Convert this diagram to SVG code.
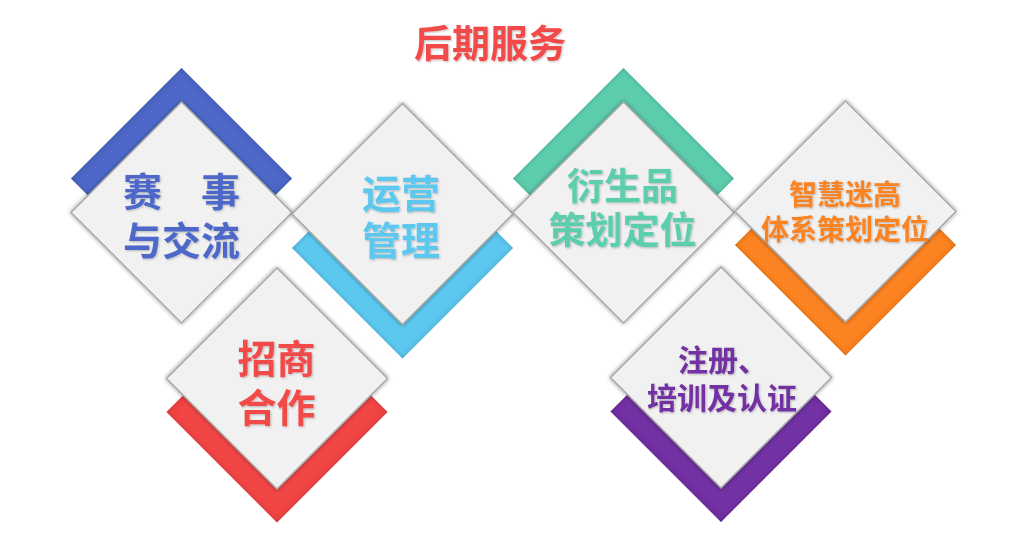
<svg xmlns="http://www.w3.org/2000/svg" width="1020" height="538" viewBox="0 0 1020 538">
<style>
.card{fill:#f1f1f1;stroke:#a8a8a8;stroke-width:1.5;filter:url(#ds)}
.chev{filter:url(#inset)}
.t{font-family:"Noto Sans CJK SC","Noto Sans",sans-serif;font-weight:700;text-anchor:middle;dominant-baseline:central;filter:url(#ts)}
</style>
<defs>
<polygon id="d" points="0,-110.5 110.5,0 0,110.5 -110.5,0"/>
<filter id="ds" x="-20%" y="-20%" width="140%" height="140%">
<feDropShadow dx="0" dy="0" stdDeviation="2" flood-color="#000" flood-opacity="0.45"/>
</filter>
<filter id="inset" x="-10%" y="-10%" width="120%" height="120%">
<feComponentTransfer in="SourceAlpha" result="inv"><feFuncA type="table" tableValues="1 0"/></feComponentTransfer>
<feGaussianBlur in="inv" stdDeviation="2.5" result="blur"/>
<feFlood flood-color="#000" flood-opacity="0.45"/>
<feComposite in2="blur" operator="in"/>
<feComposite in2="SourceAlpha" operator="in" result="sh"/>
<feMerge><feMergeNode in="SourceGraphic"/><feMergeNode in="sh"/></feMerge>
</filter>
<filter id="ts" x="-10%" y="-10%" width="120%" height="120%">
<feDropShadow dx="1" dy="1" stdDeviation="0.8" flood-color="#000" flood-opacity="0.25"/>
</filter>
</defs>
<rect width="1020" height="538" fill="#fff"/>
<g id="title"><text class="t" x="490" y="40" font-size="38" fill="#f24a4a">后期服务</text></g>
<g id="node-saishi">
<use href="#d" class="chev" x="181.5" y="178.5" fill="#4d67c8"/>
<use href="#d" class="card" x="181.5" y="212.5"/>
<text class="t" x="181.5" y="188.5" font-size="39" fill="#4d67c8">赛　事</text>
<text class="t" x="181.5" y="237.5" font-size="39" fill="#4d67c8">与交流</text>
</g>
<g id="node-yunying">
<use href="#d" class="chev" x="402.5" y="248" fill="#5bc8f0"/>
<use href="#d" class="card" x="402.5" y="214"/>
<text class="t" x="401" y="191" font-size="39" fill="#5bc8f0">运营</text>
<text class="t" x="401" y="238" font-size="39" fill="#5bc8f0">管理</text>
</g>
<g id="node-zhaoshang">
<use href="#d" class="chev" x="277" y="412" fill="#f24444"/>
<use href="#d" class="card" x="277" y="378.5"/>
<text class="t" x="276.5" y="356" font-size="39" fill="#f24a4a">招商</text>
<text class="t" x="276.5" y="405" font-size="39" fill="#f24a4a">合作</text>
</g>
<g id="node-yanshengpin">
<use href="#d" class="chev" x="623.5" y="178.5" fill="#5bcdad"/>
<use href="#d" class="card" x="623.5" y="212.5"/>
<text class="t" x="622.5" y="183.5" font-size="37" fill="#5bcdad">衍生品</text>
<text class="t" x="622.5" y="227.5" font-size="37" fill="#5bcdad">策划定位</text>
</g>
<g id="node-zhihui">
<use href="#d" class="chev" x="845.5" y="245" fill="#fc8324"/>
<use href="#d" class="card" x="845.5" y="211.5"/>
<text class="t" x="845" y="193" font-size="28" fill="#fc8324">智慧迷高</text>
<text class="t" x="845" y="227.5" font-size="28" fill="#fc8324">体系策划定位</text>
</g>
<g id="node-zhuce">
<use href="#d" class="chev" x="721" y="411.5" fill="#7330a3"/>
<use href="#d" class="card" x="721" y="377.5"/>
<text class="t" x="678" y="357.5" font-size="30" fill="#7330a3" style="text-anchor:start">注册、</text>
<text class="t" x="647" y="396" font-size="30" fill="#7330a3" style="text-anchor:start">培训及认证</text>
</g>
<g id="connectors"/>
</svg>
